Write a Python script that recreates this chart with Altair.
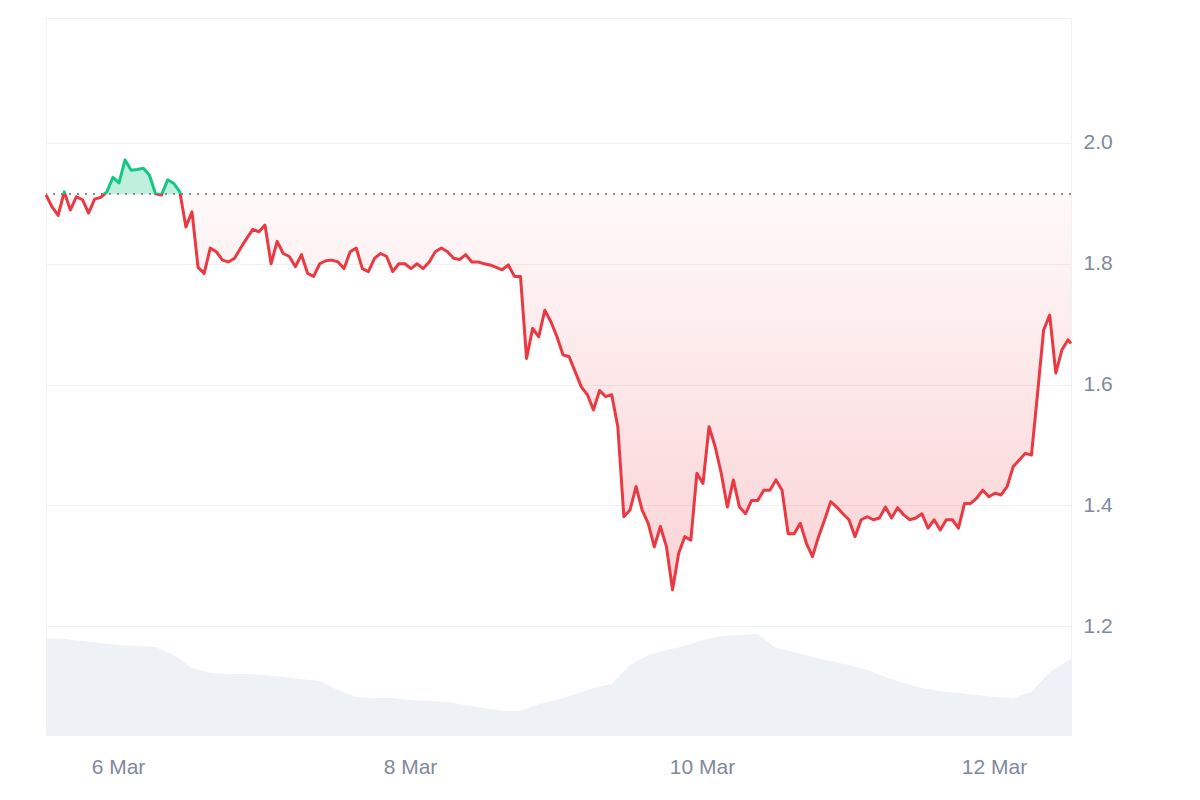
import altair as alt
import pandas as pd

START = "2025-03-05T12:10:00Z"
END = "2025-03-12T12:40:00Z"
BASE = 1.9155  # opening price (dotted reference line)

# hourly closing prices, starting at START
price = [
    1.914, 1.894, 1.880, 1.919, 1.889, 1.911, 1.906, 1.884, 1.907, 1.910,
    1.919, 1.943, 1.934, 1.972, 1.955, 1.956, 1.958, 1.947, 1.916, 1.914,
    1.939, 1.933, 1.919, 1.861, 1.886, 1.794, 1.784, 1.826, 1.820, 1.806,
    1.803, 1.809, 1.826, 1.842, 1.857, 1.853, 1.864, 1.800, 1.837, 1.817,
    1.812, 1.795, 1.815, 1.784, 1.779, 1.800, 1.805, 1.806, 1.803, 1.792,
    1.820, 1.826, 1.792, 1.787, 1.809, 1.817, 1.812, 1.787, 1.800, 1.800,
    1.792, 1.800, 1.792, 1.803, 1.820, 1.826, 1.820, 1.809, 1.807, 1.815,
    1.803, 1.803, 1.800, 1.798, 1.794, 1.790, 1.798, 1.779, 1.779, 1.643,
    1.693, 1.679, 1.723, 1.704, 1.679, 1.649, 1.646, 1.621, 1.596, 1.583,
    1.558, 1.590, 1.580, 1.583, 1.530, 1.381, 1.392, 1.431, 1.392, 1.370,
    1.331, 1.365, 1.331, 1.260, 1.320, 1.348, 1.342, 1.453, 1.436, 1.530,
    1.497, 1.453, 1.397, 1.442, 1.397, 1.386, 1.408, 1.408, 1.425, 1.425,
    1.442, 1.425, 1.353, 1.353, 1.370, 1.337, 1.315, 1.348, 1.376, 1.406,
    1.397, 1.386, 1.376, 1.348, 1.376, 1.381, 1.376, 1.379, 1.397, 1.379,
    1.396, 1.384, 1.376, 1.379, 1.386, 1.362, 1.376, 1.359, 1.376, 1.376,
    1.362, 1.403, 1.403, 1.412, 1.425, 1.414, 1.420, 1.417, 1.431, 1.464,
    1.475, 1.486, 1.483, 1.585, 1.690, 1.715, 1.619, 1.657, 1.674,
]
price_last = 1.668

# 3-hourly volume (arbitrary units), starting at START
volume = [
    97, 96, 94, 92, 90, 89, 88, 80, 67, 62,
    61, 61, 60, 58, 56, 54, 45, 38, 37, 37,
    35, 34, 33, 30, 27, 24, 24, 31, 35, 41,
    47, 51, 70, 80, 85, 89, 95, 99, 100, 101,
    87, 83, 78, 74, 70, 65, 58, 52, 47, 44,
    42, 40, 38, 37, 43, 63, 74,
]
volume_last = 76
VOL_MAX = 717

tick_days = ["2025-03-06", "2025-03-08", "2025-03-10", "2025-03-12"]
y_ticks = [1.2, 1.4, 1.6, 1.8, 2.0]
Y_DOMAIN = [1.0195, 2.207]

RED = "#ea3943"
GREEN = "#16c784"
GRID = "#eff2f5"
LABEL = "#808a9d"
FONT = "Liberation Sans"

start = pd.Timestamp(START)
end = pd.Timestamp(END)


def ms(ts):
    return int(ts.value // 1_000_000)


p_t = [ms(start + pd.Timedelta(hours=k)) for k in range(len(price))] + [ms(end)]
p_v = price + [price_last]
df_p = pd.DataFrame({"t": p_t, "price": p_v, "base": BASE})

v_t = [ms(start + pd.Timedelta(hours=3 * j)) for j in range(len(volume))] + [ms(end)]
df_v = pd.DataFrame({"t": v_t, "vol": volume + [volume_last]})

hi, lo = max(p_v), min(p_v)
f = (hi - BASE) / (hi - lo)

x_enc = alt.X(
    "t:T",
    scale=alt.Scale(type="utc", domain=[ms(start), ms(end)]),
    axis=alt.Axis(
        values=[ms(pd.Timestamp(d + "T00:00:00Z")) for d in tick_days],
        labelExpr="utcFormat(datum.value, '%-d %b')",
        grid=False,
        domain=False,
        ticks=False,
        tickSize=0,
        labelPadding=21,
        title=None,
    ),
)

y_scale = alt.Scale(domain=Y_DOMAIN, nice=False, zero=False)

vol_layer = alt.Chart(df_v).mark_area(color="#eef1f5", interpolate="linear").encode(
    x=x_enc,
    y=alt.Y("vol:Q", scale=alt.Scale(domain=[0, VOL_MAX], nice=False), axis=None),
)

fill_layer = alt.Chart(df_p).mark_area(
    fill=alt.Gradient(
        gradient="linear", x1=0, y1=0, x2=0, y2=1,
        stops=[
            alt.GradientStop(offset=0, color="rgba(22,199,132,0.28)"),
            alt.GradientStop(offset=f, color="rgba(22,199,132,0.28)"),
            alt.GradientStop(offset=f, color="rgba(234,57,67,0.03)"),
            alt.GradientStop(offset=1, color="rgba(234,57,67,0.22)"),
        ],
    )
).encode(
    x=x_enc,
    y=alt.Y(
        "price:Q",
        scale=y_scale,
        axis=alt.Axis(
            orient="right",
            values=y_ticks,
            format=".1f",
            grid=True,
            gridColor=GRID,
            gridWidth=1,
            domain=False,
            ticks=False,
            tickSize=0,
            labelPadding=12,
            title=None,
        ),
    ),
    y2="base:Q",
)

base_rule = alt.Chart(df_p).mark_rule(
    color="#8d8d8d", strokeDash=[2, 6], strokeWidth=2
).encode(y=alt.datum(BASE, scale=y_scale))

line_layer = alt.Chart(df_p).mark_line(
    strokeWidth=3,
    strokeJoin="round",
    stroke=alt.Gradient(
        gradient="linear", x1=0, y1=0, x2=0, y2=1,
        stops=[
            alt.GradientStop(offset=0, color=GREEN),
            alt.GradientStop(offset=f, color=GREEN),
            alt.GradientStop(offset=f, color=RED),
            alt.GradientStop(offset=1, color=RED),
        ],
    ),
).encode(x=x_enc, y=alt.Y("price:Q", scale=y_scale))

price_layers = alt.layer(fill_layer, base_rule, line_layer)

chart = (
    alt.layer(vol_layer, price_layers)
    .resolve_scale(y="independent")
    .properties(
        width=1025,
        height=717,
        padding={"left": 36, "top": 10, "right": 5, "bottom": 5},
        background="white",
    )
    .configure_view(stroke=GRID, strokeWidth=1)
    .configure_axis(labelFont=FONT, labelFontSize=21, labelColor=LABEL)
)

chart.save("out.html", embed_options={"renderer": "svg", "actions": False})
